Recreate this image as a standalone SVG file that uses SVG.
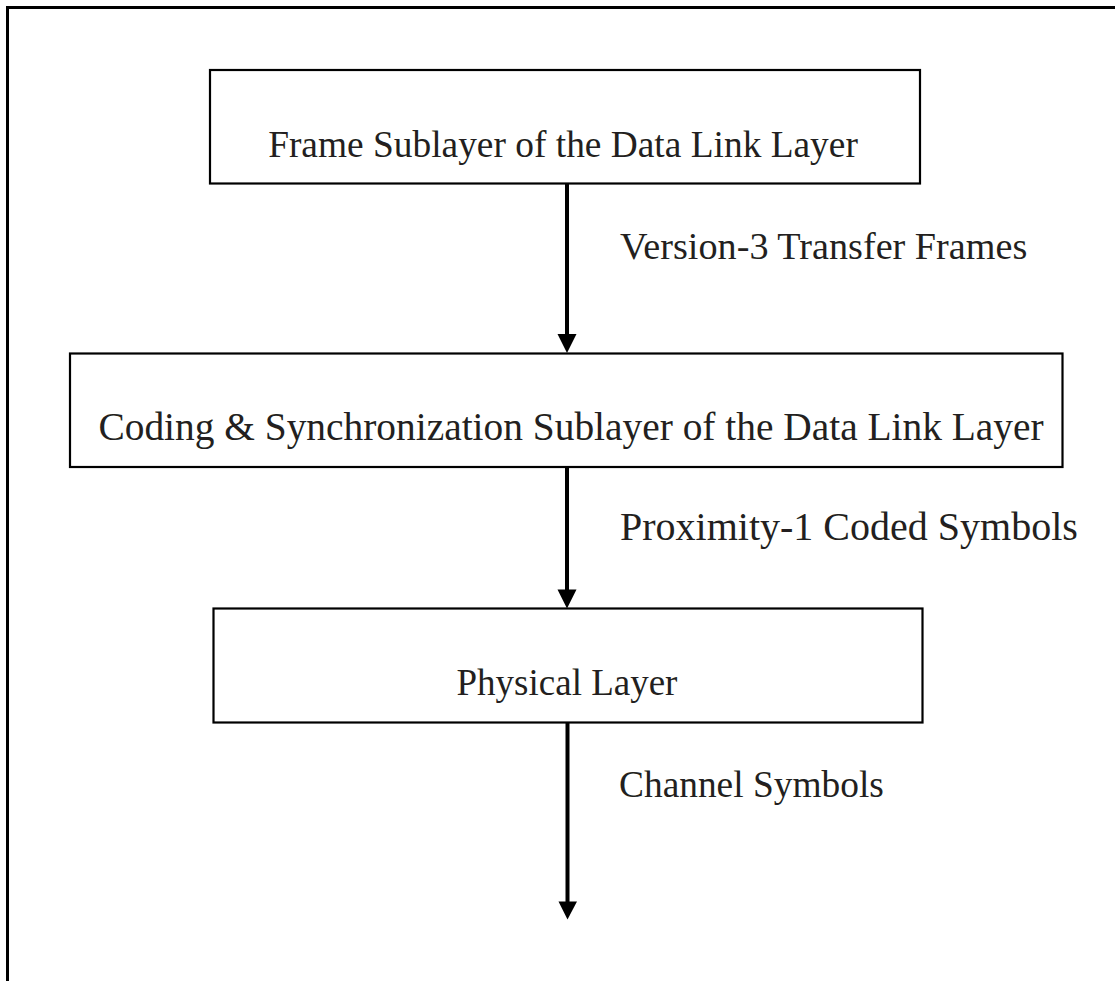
<svg xmlns="http://www.w3.org/2000/svg" width="1115" height="981" viewBox="0 0 1115 981">
  <defs>
    <style>
      .box { fill: #ffffff; stroke: #000000; stroke-width: 2.2; }
      .lbl { font-family: "Liberation Serif", "Times New Roman", serif; font-size: 37px; fill: #231f20; }
      .conn { stroke: #000000; stroke-width: 4; fill: none; }
      .head { fill: #000000; }
    </style>
  </defs>
  <rect x="0" y="0" width="1115" height="981" fill="#ffffff"/>
  <g id="frame">
    <polyline points="7.5,981 7.5,7.5 1115,7.5" fill="none" stroke="#000000" stroke-width="3"/>
  </g>
  <g id="node-frame-sublayer">
    <rect class="box" x="210" y="70" width="710" height="113.5"/>
    <text class="lbl" x="563" y="157" text-anchor="middle" style="font-size:37.4px">Frame Sublayer of the Data Link Layer</text>
  </g>
  <g id="node-coding-sublayer">
    <rect class="box" x="70" y="353.5" width="992.5" height="113.5"/>
    <text class="lbl" x="571" y="440" text-anchor="middle" style="font-size:39.4px">Coding &amp; Synchronization Sublayer of the Data Link Layer</text>
  </g>
  <g id="node-physical-layer">
    <rect class="box" x="213.5" y="608.5" width="709" height="114"/>
    <text class="lbl" x="567" y="695" text-anchor="middle">Physical Layer</text>
  </g>
  <g id="connectors">
    <line class="conn" x1="567" y1="184" x2="567" y2="336"/>
    <polygon class="head" points="557.5,334 576.5,334 567,353"/>
    <text class="lbl" x="620" y="259" style="font-size:38.2px">Version-3 Transfer Frames</text>
    <line class="conn" x1="567" y1="468" x2="567" y2="591"/>
    <polygon class="head" points="557.5,589.5 576.5,589.5 567,608.5"/>
    <text class="lbl" x="620" y="540" style="font-size:40px">Proximity-1 Coded Symbols</text>
    <line class="conn" x1="567.5" y1="723" x2="567.5" y2="903"/>
    <polygon class="head" points="558.5,901.5 577,901.5 567.5,919.5"/>
    <text class="lbl" x="619" y="797" style="font-size:37.4px">Channel Symbols</text>
  </g>
</svg>
